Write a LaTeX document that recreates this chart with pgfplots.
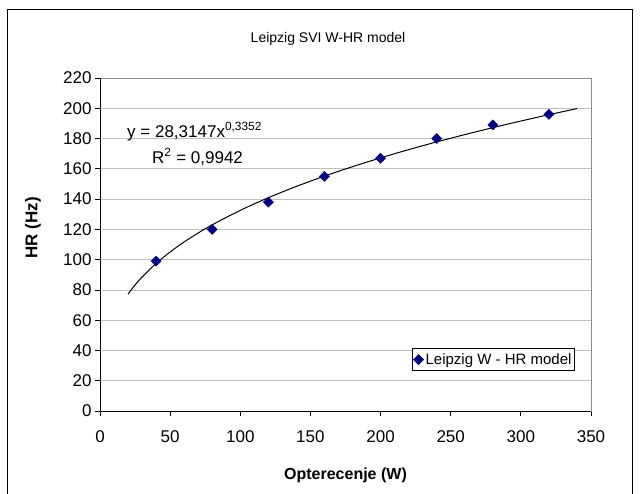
\documentclass[border=0pt]{standalone}
\usepackage{fontspec}
\setmainfont{Liberation Sans}
\usepackage{pgfplots}
\pgfplotsset{compat=1.18}
\definecolor{navy}{RGB}{0,0,128}
\definecolor{gridgray}{RGB}{192,192,192}
\definecolor{framegray}{RGB}{140,140,140}
\begin{document}
\begin{tikzpicture}
\useasboundingbox (0bp,0bp) rectangle (641bp,494bp);
\draw[line width=1bp] (7.5bp,0bp) -- (7.5bp,484bp) -- (632bp,484bp) -- (632bp,0bp);
\node[font=\fontsize{14bp}{16bp}\selectfont] at (328bp,455bp) {Leipzig SVI W-HR model};
\begin{axis}[
  at={(100bp,83bp)}, anchor=origin,
  scale only axis, width=491bp, height=333bp,
  xmin=0, xmax=350, ymin=0, ymax=220,
  xtick={0,50,...,350}, ytick={0,20,...,220},
  tick pos=left, tick align=outside, major tick length=5bp,
  every tick/.style={black, line width=0.8bp},
  ymajorgrids, grid style={gridgray, line width=0.8bp},
  axis line style={framegray, line width=0.8bp},
  /pgf/number format/assume math mode=true,
  ticklabel style={font=\fontsize{17bp}{19bp}\selectfont},
  yticklabel style={xshift=0bp},
  xticklabel style={yshift=-11bp},
  xlabel={\textbf{Opterecenje (W)}},
  ylabel={\textbf{HR (Hz)}},
  xlabel style={font=\fontsize{16bp}{18bp}\selectfont, at={(axis description cs:0.5,-0.193)}, anchor=center},
  ylabel style={font=\fontsize{17bp}{19bp}\selectfont, at={(axis description cs:-0.1365,0.55)}, anchor=center},
  legend style={at={(axis description cs:0.967,0.12)}, anchor=south east,
    draw=black, line width=0.6bp, font=\fontsize{15bp}{17bp}\selectfont,
    inner xsep=1bp, inner ysep=3bp, row sep=0pt},
  legend cell align=left,
  clip=false,
]
\addplot[black, line width=1bp, smooth, forget plot] coordinates {
 (20,77.29) (25,83.29) (30,88.54) (40,97.52) (50,105.07) (60,111.69) (70,117.62)
 (80,123.00) (100,132.56) (120,140.91) (140,148.38) (160,155.18) (180,161.42)
 (200,167.23) (220,172.66) (240,177.77) (260,182.60) (280,187.19) (300,191.57)
 (320,195.76) (340,199.78)
};
\addplot[only marks, mark=square*, mark size=3.6bp, mark options={rotate=45, fill=navy, draw=navy}] coordinates {
 (40,99) (80,120) (120,138) (160,155) (200,167) (240,180) (280,189) (320,196)
};
\addlegendentry{Leipzig W - HR model}
\draw[black, line width=0.8bp] (rel axis cs:0,1) -- (rel axis cs:0,0) -- (rel axis cs:1,0);
\node[anchor=base west, font=\fontsize{17bp}{19bp}\selectfont, inner sep=0pt] at (axis cs:19.25,181) {y = 28,3147x\textsuperscript{0,3352}};
\node[anchor=base west, font=\fontsize{17bp}{19bp}\selectfont, inner sep=0pt] at (axis cs:37.07,163.8) {R\textsuperscript{2} = 0,9942};
\end{axis}
\end{tikzpicture}
\end{document}
